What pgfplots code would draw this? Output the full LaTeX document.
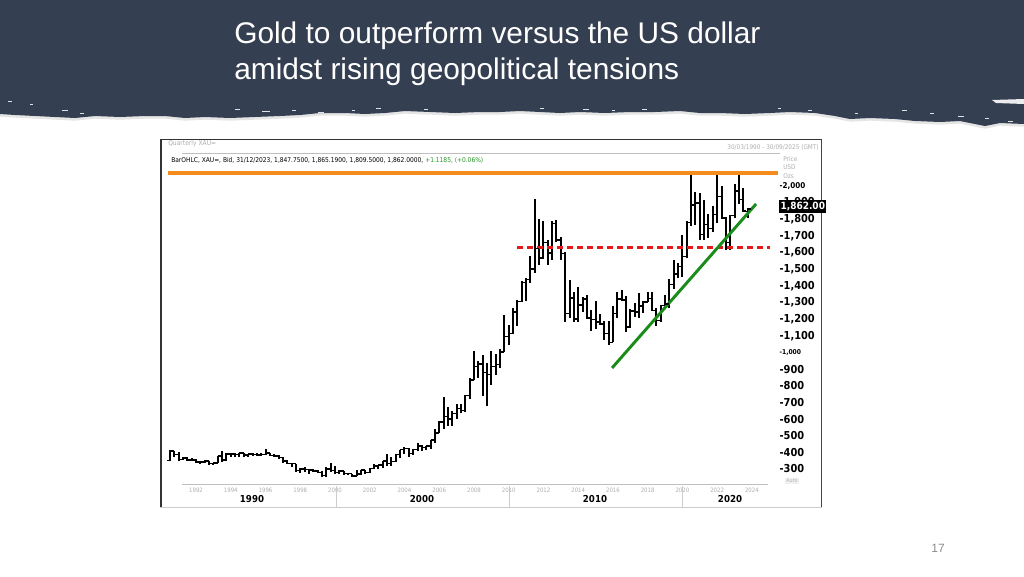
\documentclass[border=0pt]{standalone}
\usepackage{pgfplots}
\pgfplotsset{compat=1.18}
\usepackage{pgfplotstable}
\usepackage{fontspec}
\setmainfont{Liberation Sans}
\newfontfamily\chartfont{DejaVu Sans Condensed}

\definecolor{band}{RGB}{53,63,82}
\definecolor{resorange}{RGB}{245,140,30}
\definecolor{resred}{RGB}{230,25,25}
\definecolor{trendgreen}{RGB}{25,140,25}
\definecolor{tickgray}{RGB}{175,175,175}
\definecolor{chgreen}{RGB}{40,150,40}
\definecolor{pagegray}{RGB}{140,140,140}

\pgfdeclareplotmark{ohlcopen}{\pgfpathmoveto{\pgfqpoint{-2.4pt}{0pt}}\pgfpathlineto{\pgfqpoint{0pt}{0pt}}\pgfusepathqstroke}
\pgfdeclareplotmark{ohlcclose}{\pgfpathmoveto{\pgfqpoint{0pt}{0pt}}\pgfpathlineto{\pgfqpoint{2.4pt}{0pt}}\pgfusepathqstroke}

% quarterly XAU= bars: time, open, high, low, close
\pgfplotstableread{
t o h l c
1990.50 352 414 349 408
1990.75 408 411 374 386
1991.00 386 403 355 356
1991.25 356 372 354 367
1991.50 367 372 347 355
1991.75 355 369 351 353
1992.00 353 362 340 341
1992.25 341 344 330 343
1992.50 343 352 336 349
1992.75 349 351 330 333
1993.00 333 339 326 337
1993.25 337 379 336 378
1993.50 378 407 342 355
1993.75 355 395 350 391
1994.00 391 393 375 390
1994.25 390 395 373 386
1994.50 386 397 375 395
1994.75 395 397 375 383
1995.00 383 393 372 391
1995.25 391 396 382 387
1995.50 387 395 382 384
1995.75 384 397 380 387
1996.00 387 418 386 396
1996.25 396 397 379 382
1996.50 382 390 378 379
1996.75 379 385 366 369
1997.00 369 370 338 349
1997.25 349 352 333 334
1997.50 334 339 314 332
1997.75 332 333 283 290
1998.00 290 309 279 301
1998.25 301 313 285 296
1998.50 296 298 272 293
1998.75 293 300 284 288
1999.00 288 293 277 280
1999.25 280 289 257 261
1999.50 261 311 253 299
1999.75 299 338 281 290
2000.00 290 316 275 278
2000.25 278 293 270 288
2000.50 288 291 268 273
2000.75 273 275 264 273
2001.00 273 273 255 258
2001.25 258 294 256 270
2001.50 270 293 265 293
2001.75 293 293 272 279
2002.00 279 304 277 302
2002.25 302 330 298 318
2002.50 318 327 300 324
2002.75 324 349 306 347
2003.00 347 389 320 334
2003.25 334 372 321 346
2003.50 346 390 341 388
2003.75 388 417 365 416
2004.00 416 430 389 424
2004.25 424 427 372 394
2004.50 394 419 384 416
2004.75 416 456 409 438
2005.00 438 446 411 428
2005.25 428 441 412 437
2005.50 437 476 418 473
2005.75 473 541 456 517
2006.00 517 586 516 582
2006.25 582 730 543 614
2006.50 614 675 560 599
2006.75 599 649 560 632
2007.00 632 691 603 662
2007.25 662 692 638 650
2007.50 650 744 642 743
2007.75 743 848 723 834
2008.00 834 1011 834 916
2008.25 916 946 846 930
2008.50 930 987 740 880
2008.75 880 936 681 869
2009.00 869 1007 802 916
2009.25 916 990 865 927
2009.50 927 1018 908 1003
2009.75 1003 1226 1003 1096
2010.00 1096 1162 1044 1113
2010.25 1113 1266 1110 1244
2010.50 1244 1315 1157 1307
2010.75 1307 1431 1306 1421
2011.00 1421 1448 1308 1439
2011.25 1439 1577 1420 1500
2011.50 1500 1920 1478 1624
2011.75 1624 1803 1523 1566
2012.00 1566 1791 1563 1662
2012.25 1662 1678 1527 1598
2012.50 1598 1790 1555 1773
2012.75 1773 1796 1662 1675
2013.00 1675 1694 1555 1595
2013.25 1595 1605 1180 1234
2013.50 1234 1434 1208 1326
2013.75 1326 1361 1181 1202
2014.00 1202 1392 1182 1284
2014.25 1284 1332 1240 1322
2014.50 1322 1345 1207 1208
2014.75 1208 1255 1131 1199
2015.00 1199 1307 1142 1183
2015.25 1183 1232 1162 1172
2015.50 1172 1191 1077 1115
2015.75 1115 1191 1046 1061
2016.00 1061 1282 1061 1233
2016.25 1233 1362 1208 1321
2016.50 1321 1375 1310 1316
2016.75 1316 1337 1123 1152
2017.00 1152 1264 1146 1249
2017.25 1249 1296 1214 1242
2017.50 1242 1357 1205 1280
2017.75 1280 1307 1236 1303
2018.00 1303 1366 1302 1325
2018.25 1325 1365 1250 1253
2018.50 1253 1266 1160 1192
2018.75 1192 1285 1180 1282
2019.00 1282 1346 1276 1292
2019.25 1292 1439 1266 1409
2019.50 1409 1557 1381 1472
2019.75 1472 1535 1445 1517
2020.00 1517 1703 1451 1577
2020.25 1577 1788 1567 1781
2020.50 1781 2075 1757 1886
2020.75 1886 1966 1764 1898
2021.00 1898 1959 1677 1708
2021.25 1708 1916 1677 1770
2021.50 1770 1834 1688 1743
2021.75 1743 1877 1721 1829
2022.00 1829 2070 1780 1937
2022.25 1937 1998 1805 1807
2022.50 1807 1814 1615 1660
2022.75 1660 1824 1617 1824
2023.00 1824 2009 1805 1969
2023.25 1969 2079 1893 1919
2023.50 1919 1987 1847 1849
2023.75 1847.75 1865.19 1809.5 1862
}\ohlc

\def\bandpath{(0,0) -- (1024,0) -- (1024,124) -- (1000,123) -- (985,126) -- (960,121) -- (940,122) -- (915,121) -- (895,119) -- (870,118) -- (850,119) -- (835,116) -- (815,113) -- (790,112) -- (770,113) -- (745,114) -- (720,113) -- (700,113) -- (680,111) -- (655,112) -- (630,112) -- (605,113) -- (580,112) -- (560,113) -- (540,112) -- (520,111) -- (500,112) -- (480,112) -- (455,113) -- (430,112) -- (405,111) -- (385,113) -- (365,114) -- (345,113) -- (320,113) -- (300,115) -- (280,116) -- (255,117) -- (230,118) -- (205,117) -- (185,118) -- (165,116) -- (145,116) -- (120,117) -- (95,116) -- (75,118) -- (55,117) -- (35,116) -- (15,115) -- (0,114) -- cycle}

\begin{document}
\begin{tikzpicture}
\begin{scope}[x=0.75pt,y=-0.75pt]
  \fill[white] (0,0) rectangle (1024,576);
  \fill[gray!20, yshift=-2pt] \bandpath;
  \fill[band] \bandpath;
  % torn-edge specks
  \foreach \sx/\sy/\sw in {8/101/4,30/104/3,62/110/6,80/113/4,235/109/5,262/111/8,292/110/4,318/112/6,352/110/3,376/108/5,424/109/4,540/108/4,583/109/6,612/110/3,642/109/5,778/108/3,808/110/4,855/113/3,902/110/5,930/113/4,958/116/6,985/118/4,1008/121/5}
    \fill[white!85!band] (\sx,\sy) rectangle ++(\sw,1.1);
  \fill[white!90!band] (992,100) -- (1024,99) -- (1024,104) -- (996,103) -- cycle;
  % title
  \node[anchor=base west, text=white, inner sep=0pt, font=\fontsize{22.4}{27}\selectfont] at (234,43) {Gold to outperform versus the US dollar};
  \node[anchor=base west, text=white, inner sep=0pt, font=\fontsize{22.4}{27}\selectfont] at (234,79) {amidst rising geopolitical tensions};
  \node[text=pagegray, font=\fontsize{9}{10}\selectfont] at (938,548) {17};
\end{scope}

\begin{axis}[
  at={(126pt,-363pt)}, anchor=south west,
  scale only axis, width=457.5pt, height=239.25pt,
  xmin=1990.385, xmax=2025.503, ymin=209.9, ymax=2125.8,
  axis line style={draw=none}, major tick length=0pt,
  clip=false,
  xtick={1992,1994,...,2024},
  xticklabels={1992,1994,1996,1998,2000,2002,2004,2006,2008,2010,2012,2014,2016,2018,2020,2022,2024},
  xticklabel style={font=\chartfont\fontsize{4.5}{5}\selectfont, text=tickgray, inner sep=1pt, yshift=-1.5pt},
  ytick={300,400,...,2000},
  yticklabel pos=right,
  yticklabels={{-300},{-400},{-500},{-600},{-700},{-800},{-900},{\fontsize{5}{6}\selectfont -1,000},{-1,100},{-1,200},{-1,300},{-1,400},{-1,500},{-1,600},{-1,700},{-1,800},{-1,900},{\fontsize{6}{7}\selectfont -2,000}},
  yticklabel style={font=\chartfont\bfseries\fontsize{8.2}{9}\selectfont, anchor=west, inner sep=0pt, xshift=1pt},
]
\addplot[only marks, mark=ohlcclose, mark options={black, line width=1.1pt, line cap=butt},
  error bars/.cd, y dir=both, y explicit, error mark=none,
  error bar style={black, line width=1.5pt, line cap=butt}]
  table[x=t, y=c, y error plus expr=\thisrow{h}-\thisrow{c}, y error minus expr=\thisrow{c}-\thisrow{l}] {\ohlc};
\addplot[only marks, mark=ohlcopen, mark options={black, line width=1.1pt, line cap=butt}]
  table[x=t, y=o] {\ohlc};
% resistance, support and trend lines
\addplot[resorange, line width=3pt] coordinates {(1990.385,2075) (2025.503,2075)};
\addplot[resred, line width=1.8pt, dash pattern=on 4.5pt off 3pt] coordinates {(2010.48,1630) (2025.04,1630)};
\addplot[trendgreen, line width=2.2pt] coordinates {(2015.95,907) (2024.24,1892)};
\end{axis}

\begin{scope}[x=0.75pt,y=-0.75pt]
  % chart frame
  \draw[line width=2.2pt, black!80] (161,139) -- (161,507);
  \draw[line width=1pt, black!80] (160,139.5) -- (822,139.5);
  \draw[line width=0.8pt, brown!50!black] (821.5,139) -- (821.5,507);
  \draw[line width=0.4pt, gray!40] (160,507) -- (822,507);
  % chart header
  \node[anchor=west, inner sep=0pt, text=tickgray, font=\chartfont\fontsize{5}{6}\selectfont] at (168,143.5) {Quarterly XAU=};
  \node[anchor=east, inner sep=0pt, text=tickgray, font=\chartfont\fontsize{4.8}{5}\selectfont] at (819,147) {30/03/1990 - 30/09/2025 (GMT)};
  \draw[line width=0.5pt, gray!50] (182,153) -- (780,153);
  \node[anchor=west, inner sep=0pt, font=\chartfont\fontsize{4.95}{6}\selectfont] at (171,160.5) {BarOHLC, XAU=, Bid, 31/12/2023, 1,847.7500, 1,865.1900, 1,809.5000, 1,862.0000, \textcolor{chgreen}{+1.1185, (+0.06\%)}};
  \foreach \ty/\tt in {159/Price,167.5/USD,176/Ozs}
    \node[anchor=west, inner sep=0pt, text=tickgray, font=\chartfont\fontsize{4.8}{5}\selectfont] at (783,\ty) {\tt};
  % last price box
  \node[anchor=west, fill=black, text=white, inner xsep=1pt, inner ysep=1.2pt, font=\chartfont\bfseries\fontsize{7.5}{8}\selectfont] at (779,206.5) {1,862.00};
  \node[fill=gray!12, text=gray!55, inner sep=0.8pt, font=\chartfont\fontsize{4}{5}\selectfont] at (792,481) {Auto};
  % time axis
  \draw[line width=0.5pt, gray!50] (182,484) -- (768,484);
  \foreach \dx in {336,509,682}
    \draw[line width=0.5pt, gray!40] (\dx,486) -- (\dx,507);
  \foreach \lx/\lt in {252/1990,422/2000,595/2010,730/2020}
    \node[inner sep=0pt, font=\chartfont\bfseries\fontsize{7.2}{8}\selectfont] at (\lx,499) {\lt};
\end{scope}
\end{tikzpicture}
\end{document}
